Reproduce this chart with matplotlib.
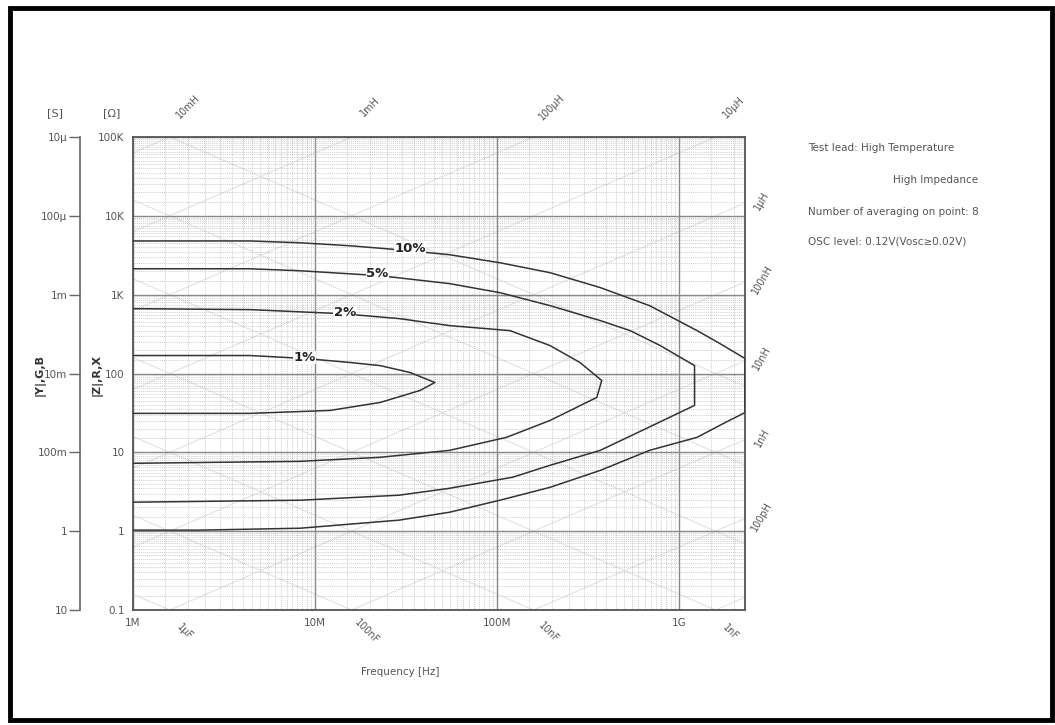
import numpy as np
import matplotlib
matplotlib.use('Agg')
import matplotlib.pyplot as plt
from matplotlib.patches import Rectangle
from matplotlib.ticker import FixedLocator, LogLocator, NullFormatter

# frequency axis [Hz] and impedance axis [ohm]
f_min, f_max = 1e6, 2.31e9
z_min, z_max = 0.1, 1e5

x_ticks = [1e6, 1e7, 1e8, 1e9]
x_labels = ['1M', '10M', '100M', '1G']
z_ticks = [0.1, 1, 10, 100, 1e3, 1e4, 1e5]
z_labels = ['0.1', '1', '10', '100', '1K', '10K', '100K']
y_ticks = [10, 1, 0.1, 1e-2, 1e-3, 1e-4, 1e-5]
y_labels = ['10', '1', '100m', '10m', '1m', '100μ', '10μ']

# accuracy contours: upper branch (left -> right) then lower branch (right -> left)
acc10_f = [1e6, 4.4e6, 8.3e6, 1.56e7, 2.9e7, 5.5e7, 1.04e8, 1.96e8, 3.7e8, 6.9e8, 1.26e9, 1.68e9, 2.31e9,
           2.31e9, 1.68e9, 1.26e9, 6.9e8, 3.7e8, 1.96e8, 1.04e8, 5.5e7, 2.9e7, 8.3e6, 2.3e6, 1e6]
acc10_z = [4.8e3, 4.8e3, 4.55e3, 4.17e3, 3.71e3, 3.21e3, 2.54e3, 1.9e3, 1.23e3, 726, 350, 240, 155,
           32, 22, 15.5, 10.6, 5.9, 3.6, 2.47, 1.74, 1.38, 1.09, 1.03, 1.03]

acc5_f = [1e6, 4.4e6, 8.3e6, 2.28e7, 5.5e7, 1.04e8, 1.96e8, 3.7e8, 5.4e8, 7.9e8, 1.22e9,
          1.22e9, 6.3e8, 3.7e8, 1.96e8, 1.22e8, 5.5e7, 2.9e7, 8.3e6, 1e6]
acc5_z = [2.13e3, 2.13e3, 2.01e3, 1.74e3, 1.38e3, 1.06e3, 726, 469, 350, 226, 126,
          39.4, 19.0, 10.6, 6.85, 4.83, 3.5, 2.86, 2.47, 2.33]

acc2_f = [1e6, 4.4e6, 1.4e7, 2.9e7, 5.5e7, 1.18e8, 1.96e8, 2.86e8, 3.77e8,
          3.54e8, 1.96e8, 1.13e8, 5.5e7, 2.28e7, 8.3e6, 1e6]
acc2_z = [665, 646, 574, 497, 405, 350, 226, 138, 81.5,
          49.7, 25.4, 15.5, 10.6, 8.65, 7.69, 7.26]

acc1_f = [1e6, 4.4e6, 8.8e6, 1.56e7, 2.28e7, 3.33e7, 4.56e7,
          3.78e7, 2.28e7, 1.21e7, 4.4e6, 1e6]
acc1_z = [169, 169, 155, 138, 126, 103, 76.9,
          60.9, 42.9, 34.0, 31.2, 31.2]

contour_names = ['10%', '5%', '2%', '1%']
label_f = [3.33e7, 2.2e7, 1.46e7, 8.8e6]
label_z = [3.9e3, 1.85e3, 592, 160]

# constant L / C reference lines
l_values = [1e-11, 1e-10, 1e-9, 1e-8, 1e-7, 1e-6, 1e-5, 1e-4, 1e-3, 1e-2]
c_values = [1e-12, 1e-11, 1e-10, 1e-9, 1e-8, 1e-7, 1e-6]
top_l = [1e-2, 1e-3, 1e-4, 1e-5]
top_l_labels = ['10mH', '1mH', '100μH', '10μH']
right_l = [1e-6, 1e-7, 1e-8, 1e-9, 1e-10]
right_l_labels = ['1μH', '100nH', '10nH', '1nH', '100pH']
bottom_c = [1e-6, 1e-7, 1e-8, 1e-9]
bottom_c_labels = ['1μF', '100nF', '10nF', '1nF']

info_lines = ['Test lead: High Temperature',
              'High Impedance',
              'Number of averaging on point: 8',
              'OSC level: 0.12V(Vosc≥0.02V)']

W, H = 1055, 725
txt = '#555555'

fig = plt.figure(figsize=(W / 100, H / 100), dpi=100)
fig.patch.set_facecolor('white')
fig.patches.append(Rectangle((10 / W, 5 / H), 1042 / W, 712 / H, transform=fig.transFigure,
                             fill=False, edgecolor='black', linewidth=3.5))

ax = fig.add_axes([133 / W, 1 - 610 / H, 612 / W, 473 / H])
ax.set_xscale('log')
ax.set_yscale('log')
ax.set_xlim(f_min, f_max)
ax.set_ylim(z_min, z_max)

ax.xaxis.set_major_locator(FixedLocator(x_ticks))
ax.set_xticklabels(x_labels)
ax.yaxis.set_major_locator(FixedLocator(z_ticks))
ax.set_yticklabels(z_labels)
ax.xaxis.set_minor_locator(LogLocator(base=10, subs=np.arange(1.5, 10, 0.5), numticks=80))
ax.yaxis.set_minor_locator(LogLocator(base=10, subs=np.arange(1.5, 10, 0.5), numticks=80))
ax.xaxis.set_minor_formatter(NullFormatter())
ax.yaxis.set_minor_formatter(NullFormatter())
ax.tick_params(which='both', length=0, labelsize=7.5, colors=txt, pad=6)
ax.grid(which='major', color='#888888', linewidth=1.0, linestyle='-')
ax.grid(which='minor', color='#b4b4b4', linewidth=0.55, linestyle=(0, (1, 1.5)))
ax.set_axisbelow(True)
for s in ax.spines.values():
    s.set_color('#555555')
    s.set_linewidth(1.3)

f = np.logspace(6, np.log10(f_max), 60)
for L in l_values:
    ax.plot(f, 2 * np.pi * f * L, color='#e2e2e2', linewidth=0.8, zorder=0.5)
for C in c_values:
    ax.plot(f, 1 / (2 * np.pi * f * C), color='#e2e2e2', linewidth=0.8, zorder=0.5)

for cf, cz in [(acc10_f, acc10_z), (acc5_f, acc5_z), (acc2_f, acc2_z), (acc1_f, acc1_z)]:
    ax.plot(cf, cz, color='#333333', linewidth=1.1, zorder=3)

for name, lf, lz in zip(contour_names, label_f, label_z):
    ax.text(lf, lz, name, fontsize=9.5, fontweight='bold', color='#222222', ha='center', va='center',
            zorder=4, bbox=dict(facecolor='white', edgecolor='none', pad=0.3))

# L labels at the top edge, L labels at the right edge, C labels at the bottom edge
for L, lab in zip(top_l, top_l_labels):
    ax.annotate(lab, (z_max / (2 * np.pi * L), z_max), xytext=(18, 30), textcoords='offset pixels',
                rotation=45, fontsize=7, color=txt, ha='center', va='center', annotation_clip=False)
for L, lab in zip(right_l, right_l_labels):
    ax.annotate(lab, (f_max, 2 * np.pi * f_max * L), xytext=(17, 2), textcoords='offset pixels',
                rotation=60, fontsize=7, color=txt, ha='center', va='center', annotation_clip=False)
for C, lab in zip(bottom_c, bottom_c_labels):
    ax.annotate(lab, (1 / (2 * np.pi * z_min * C), z_min), xytext=(15, -22), textcoords='offset pixels',
                rotation=-45, fontsize=7, color=txt, ha='center', va='center', annotation_clip=False)

# admittance scale on the far left
ay = fig.add_axes([80 / W, 1 - 610 / H, 0.0001, 473 / H])
ay.set_yscale('log')
ay.set_ylim(10, 1e-5)
ay.yaxis.set_major_locator(FixedLocator(y_ticks))
ay.set_yticklabels(y_labels)
ay.yaxis.set_minor_locator(FixedLocator([]))
ay.set_xticks([])
ay.patch.set_visible(False)
for side in ['top', 'right', 'bottom']:
    ay.spines[side].set_visible(False)
ay.spines['left'].set_color('#666666')
ay.spines['left'].set_linewidth(1.2)
ay.tick_params(axis='y', direction='out', length=8, width=1, colors='#666666', labelsize=7.5,
               labelcolor=txt, pad=1)

fig.text(40 / W, 1 - 375 / H, '|Y|,G,B', rotation=90, fontsize=8, fontweight='bold', color='#333333',
         ha='center', va='center')
fig.text(97 / W, 1 - 375 / H, '|Z|,R,X', rotation=90, fontsize=8, fontweight='bold', color='#333333',
         ha='center', va='center')
fig.text(55 / W, 1 - 113 / H, '[S]', fontsize=8, color=txt, ha='center', va='center')
fig.text(112 / W, 1 - 113 / H, '[Ω]', fontsize=8, color=txt, ha='center', va='center')
fig.text(400 / W, 1 - 672 / H, 'Frequency [Hz]', fontsize=7.5, color=txt, ha='center', va='center')

fig.text(808 / W, 1 - 148 / H, info_lines[0], fontsize=7.5, color=txt, va='center')
fig.text(893 / W, 1 - 180 / H, info_lines[1], fontsize=7.5, color=txt, va='center')
fig.text(808 / W, 1 - 212 / H, info_lines[2], fontsize=7.5, color=txt, va='center')
fig.text(808 / W, 1 - 242 / H, info_lines[3], fontsize=7.5, color=txt, va='center')

fig.savefig('out.png', dpi=100)
